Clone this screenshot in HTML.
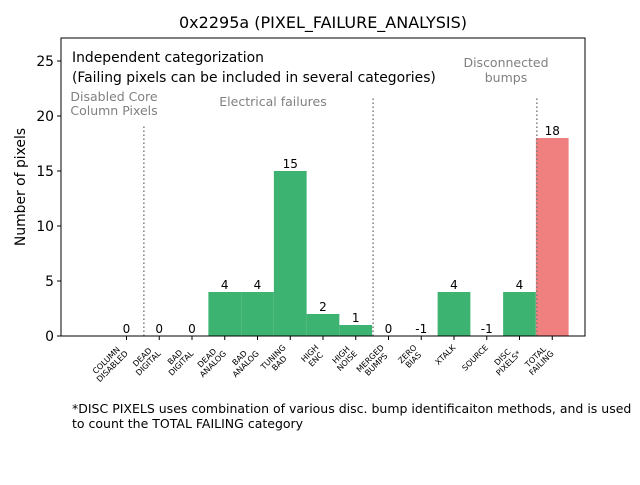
<!DOCTYPE html>
<html><head><meta charset="utf-8"><style>
body{margin:0;background:#fff}
svg text{font-family:"DejaVu Sans","Liberation Sans",sans-serif}
</style></head><body>
<svg id="c" width="640" height="480" xmlns="http://www.w3.org/2000/svg">
<rect width="640" height="480" fill="#fff"/>
<text x="323" y="28" font-size="16" text-anchor="middle">0x2295a (PIXEL_FAILURE_ANALYSIS)</text>
<g id="plot"></g>
<rect x="61" y="38" width="524" height="298" fill="none" stroke="#000" stroke-width="1"/>
<text x="72" y="62" font-size="13.9">Independent categorization</text>
<text x="72" y="82" font-size="13.9">(Failing pixels can be included in several categories)</text>
<text x="114" y="101" font-size="12.5" fill="#808080" text-anchor="middle">Disabled Core</text>
<text x="114" y="115" font-size="12.5" fill="#808080" text-anchor="middle">Column Pixels</text>
<text x="273" y="106" font-size="12.5" fill="#808080" text-anchor="middle">Electrical failures</text>
<text x="506" y="67" font-size="12.5" fill="#808080" text-anchor="middle">Disconnected</text>
<text x="506" y="82" font-size="12.5" fill="#808080" text-anchor="middle">bumps</text>
<text x="25" y="187" font-size="13.9" text-anchor="middle" transform="rotate(-90 25 187)">Number of pixels</text>
<text x="72" y="413" font-size="12.5">*DISC PIXELS uses combination of various disc. bump identificaiton methods, and is used</text>
<text x="72" y="428" font-size="12.5">to count the TOTAL FAILING category</text>
</svg>
<script>
const categories=["COLUMN\nDISABLED","DEAD\nDIGITAL","BAD\nDIGITAL","DEAD\nANALOG","BAD\nANALOG","TUNING\nBAD","HIGH\nENC","HIGH\nNOISE","MERGED\nBUMPS","ZERO\nBIAS","XTALK","SOURCE","DISC\nPIXELS*","TOTAL\nFAILING"];
const values=[0,0,0,4,4,15,2,1,0,-1,4,-1,4,18];
const yTicks=[0,5,10,15,20,25];
const separators=[0.5,7.5,12.5];
const separatorTops=[19.2,21.7,21.7];
const NS="http://www.w3.org/2000/svg";
const L=61,R=585,T=38,B=336,xMin=-2,xMax=14,yMin=0,yMax=27.09;
const X=v=>L+(v-xMin)/(xMax-xMin)*(R-L);
const Y=v=>B-(v-yMin)/(yMax-yMin)*(B-T);
const g=document.getElementById('plot');
function mk(t,a){const e=document.createElementNS(NS,t);for(const k in a)e.setAttribute(k,a[k]);g.appendChild(e);return e;}
values.forEach((v,i)=>{
  const top=Math.max(v,0);
  const r=mk('rect',{x:X(i-0.5),y:Y(top),width:X(i+0.5)-X(i-0.5),height:Y(0)-Y(top),fill:i===values.length-1?'#f08080':'#3cb371'});
  
  
  const t=mk('text',{x:X(i),y:Y(top)-3,'font-size':12,'text-anchor':'middle'});
  t.textContent=String(v);
  
  
  const tk=mk('line',{x1:X(i),x2:X(i),y1:B,y2:B+4,stroke:'#000'});
  
  
  const lines=categories[i].split('\n');
  const grp=document.createElementNS(NS,'g');g.appendChild(grp);
  
  
  let w=0;
  lines.forEach((s,j)=>{const e=document.createElementNS(NS,'text');e.setAttribute('font-size','8');e.setAttribute('text-anchor','middle');e.setAttribute('x',0);e.setAttribute('y',(j-(lines.length-1)/2)*8.5+2.8);e.setAttribute('textLength','');e.removeAttribute('textLength');e.textContent=s;grp.appendChild(e);w=Math.max(w,e.getComputedTextLength());});
  const h=lines.length*8.5;
  const bw=(w+h)/Math.SQRT2;
  const cx=X(i)+3-bw/2, cy=B+7+bw/2;
  grp.setAttribute('transform',`translate(${cx},${cy}) rotate(-45)`);
});
yTicks.forEach(v=>{
  const l=mk('line',{x1:L-4,x2:L,y1:Y(v),y2:Y(v),stroke:'#000'});
  
  
  const t=mk('text',{x:L-7,y:Y(v)+5,'font-size':13.9,'text-anchor':'end'});
  t.textContent=v;
  
  
});
separators.forEach((s,i)=>{
  const l=mk('line',{x1:X(s)+1,x2:X(s)+1,y1:B,y2:Y(separatorTops[i]),stroke:'#808080','stroke-width':1.5,'stroke-dasharray':'1.5,2.5'});
  
  
});
</script>
</body></html>
